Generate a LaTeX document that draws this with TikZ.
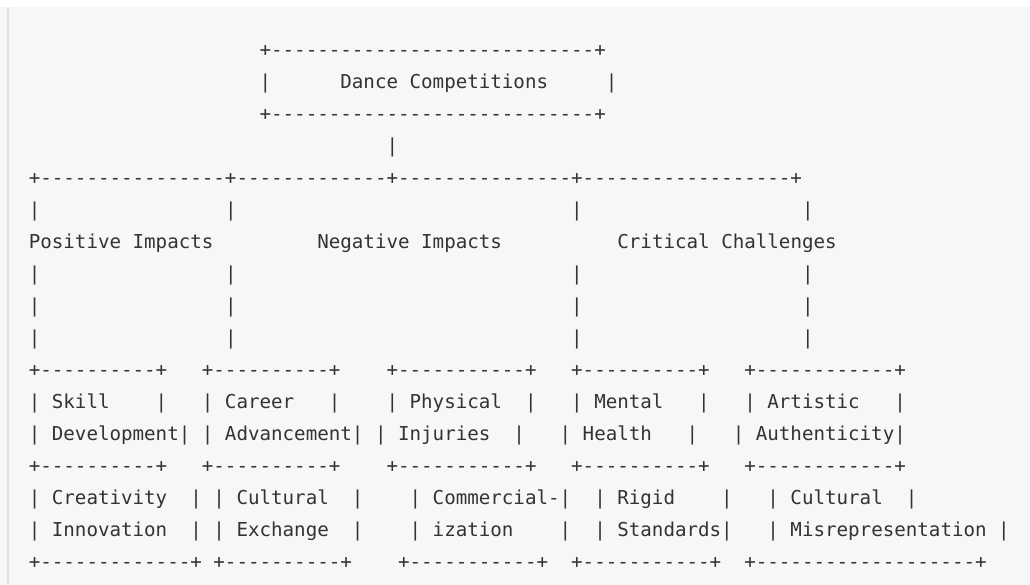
\documentclass[tikz,border=0pt]{standalone}
\usepackage{fontspec}
\setmonofont{DejaVu Sans Mono}
\definecolor{ink}{HTML}{333333}
\definecolor{panel}{HTML}{F7F7F7}
\definecolor{edge}{HTML}{E0E0E0}
\begin{document}
\begin{tikzpicture}[x=1pt,y=-1pt,
  asc/.style={anchor=base west, inner sep=0pt, outer sep=0pt, text=ink,
    font=\ttfamily\fontsize{19.17}{20}\selectfont\frenchspacing}]
\def\W{11.54}
\def\X{28.8}
\def\B{56.7}
\def\P{31.97}
\useasboundingbox (0,0) rectangle (1030,585);
\fill[white] (0,0) rectangle (1030,585);
\fill[panel] (0,7) rectangle (1030,585);
\draw[edge, line width=1.5pt] (8,7) -- (8,585);
\node[asc] (r0) at ({\X+20*\W},{\B+0*\P}) {+----------------------------+};
\node[asc] (r1) at ({\X+20*\W},{\B+1*\P}) {|~~~~~~Dance~Competitions~~~~~|};
\node[asc] (r2) at ({\X+20*\W},{\B+2*\P}) {+----------------------------+};
\node[asc] (r3) at ({\X+31*\W},{\B+3*\P}) {|};
\node[asc] (r4) at ({\X+0*\W},{\B+4*\P}) {+----------------+-------------+---------------+------------------+};
\node[asc] (r5) at ({\X+0*\W},{\B+5*\P}) {|~~~~~~~~~~~~~~~~|~~~~~~~~~~~~~~~~~~~~~~~~~~~~~|~~~~~~~~~~~~~~~~~~~|};
\node[asc] (r6) at ({\X+0*\W},{\B+6*\P}) {Positive~Impacts~~~~~~~~~Negative~Impacts~~~~~~~~~~Critical~Challenges};
\node[asc] (r7) at ({\X+0*\W},{\B+7*\P}) {|~~~~~~~~~~~~~~~~|~~~~~~~~~~~~~~~~~~~~~~~~~~~~~|~~~~~~~~~~~~~~~~~~~|};
\node[asc] (r8) at ({\X+0*\W},{\B+8*\P}) {|~~~~~~~~~~~~~~~~|~~~~~~~~~~~~~~~~~~~~~~~~~~~~~|~~~~~~~~~~~~~~~~~~~|};
\node[asc] (r9) at ({\X+0*\W},{\B+9*\P}) {|~~~~~~~~~~~~~~~~|~~~~~~~~~~~~~~~~~~~~~~~~~~~~~|~~~~~~~~~~~~~~~~~~~|};
\node[asc] (r10) at ({\X+0*\W},{\B+10*\P}) {+----------+~~~+----------+~~~~+-----------+~~~+----------+~~~+------------+};
\node[asc] (r11) at ({\X+0*\W},{\B+11*\P}) {|~Skill~~~~|~~~|~Career~~~|~~~~|~Physical~~|~~~|~Mental~~~|~~~|~Artistic~~~|};
\node[asc] (r12) at ({\X+0*\W},{\B+12*\P}) {|~Development|~|~Advancement|~|~Injuries~~|~~~|~Health~~~|~~~|~Authenticity|};
\node[asc] (r13) at ({\X+0*\W},{\B+13*\P}) {+----------+~~~+----------+~~~~+-----------+~~~+----------+~~~+------------+};
\node[asc] (r14) at ({\X+0*\W},{\B+14*\P}) {|~Creativity~~|~|~Cultural~~|~~~~|~Commercial-|~~|~Rigid~~~~|~~~|~Cultural~~|};
\node[asc] (r15) at ({\X+0*\W},{\B+15*\P}) {|~Innovation~~|~|~Exchange~~|~~~~|~ization~~~~|~~|~Standards|~~~|~Misrepresentation~|};
\node[asc] (r16) at ({\X+0*\W},{\B+16*\P}) {+-------------+~+----------+~~~~+-----------+~~+-----------+~~+-------------------+};
\end{tikzpicture}
\end{document}
